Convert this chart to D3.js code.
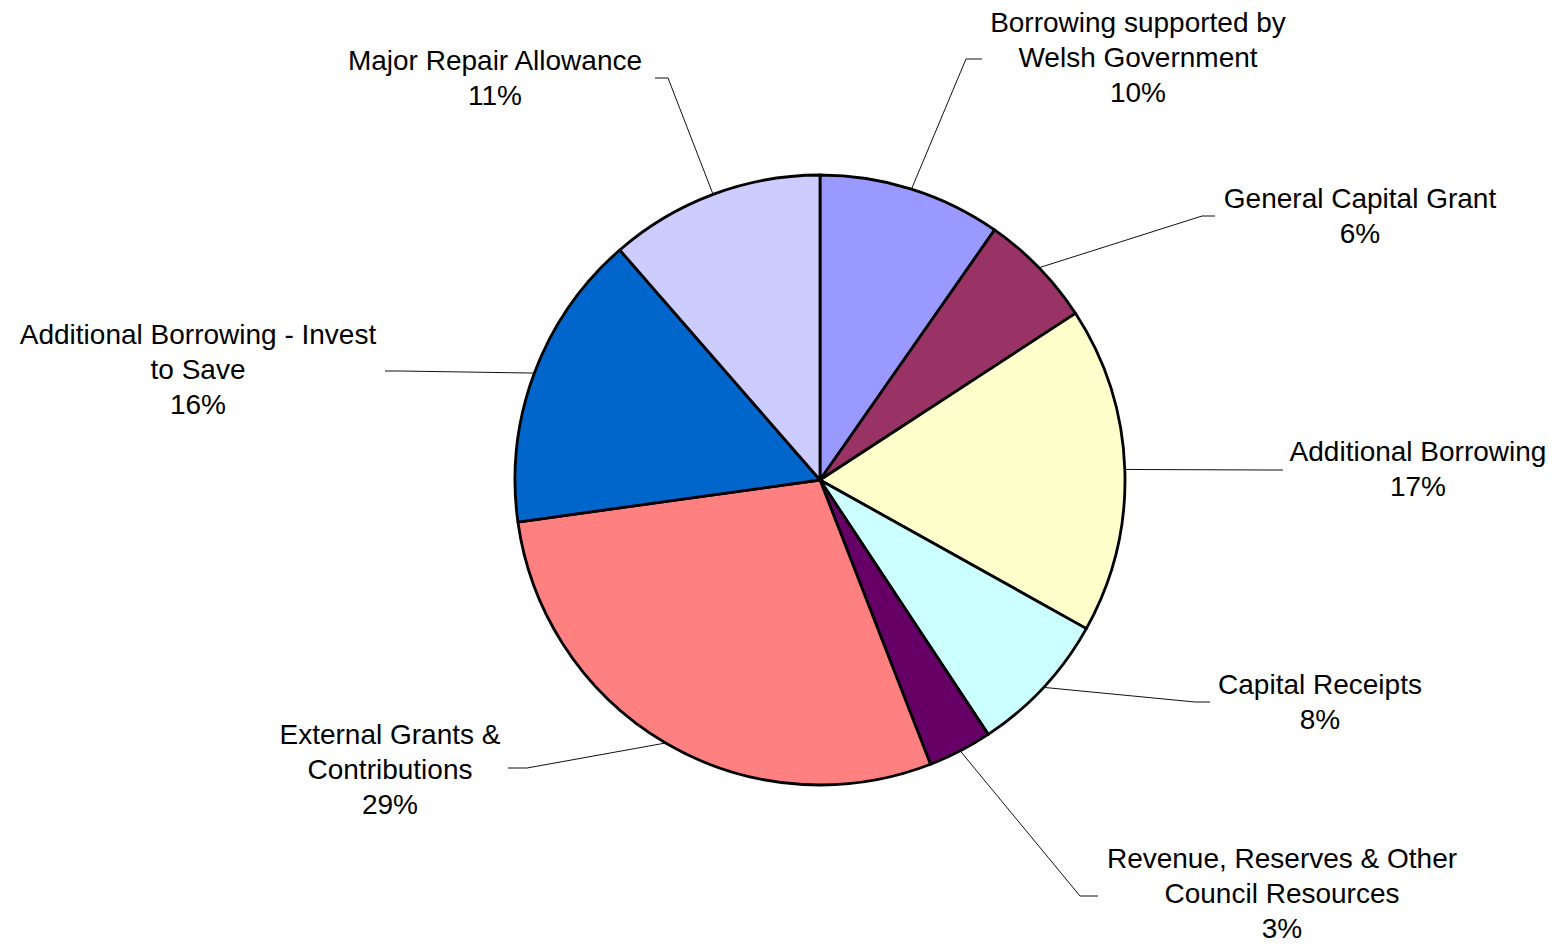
<!DOCTYPE html>
<html lang="en">
<head>
<meta charset="utf-8">
<title>Capital Programme Funding</title>
<style>
  body { margin: 0; background: white; }
  svg { display: block; }
  text { font-family: Arial, "Liberation Sans", sans-serif; font-size: 28px; fill: #000; }
</style>
<script src="https://d3js.org/d3.v7.min.js"></script>
</head>
<body>
<script>
let width = 1557
let height = 944

// data
let categories = [
  "Borrowing supported by Welsh Government",
  "General Capital Grant",
  "Additional Borrowing",
  "Capital Receipts",
  "Revenue, Reserves & Other Council Resources",
  "External Grants & Contributions",
  "Additional Borrowing - Invest to Save",
  "Major Repair Allowance"
]
let values = [9.7, 6.1, 17.3, 7.6, 3.4, 28.7, 15.8, 11.4]
let percentLabels = ["10%", "6%", "17%", "8%", "3%", "29%", "16%", "11%"]

// label text broken into lines as in the chart
let labelLines = [
  ["Borrowing supported by", "Welsh Government"],
  ["General Capital Grant"],
  ["Additional Borrowing"],
  ["Capital Receipts"],
  ["Revenue, Reserves & Other", "Council Resources"],
  ["External Grants &", "Contributions"],
  ["Additional Borrowing - Invest", "to Save"],
  ["Major Repair Allowance"]
]

let colors = ["#9999FF", "#993366", "#FFFFCC", "#CCFFFF", "#660066", "#FF8080", "#0066CC", "#CCCCFF"]

// layout: label centre (x, first line centre y) and leader elbow / end points
let labelPos = [[1138, 22], [1360, 198], [1418, 451], [1320, 684], [1282, 858], [390, 734], [198, 334], [495, 60]]
let elbows = [[966, 59], [1202, 216], [1268, 470], [1195, 702], [1080, 896], [527, 768], [400, 371], [668, 78]]
let ends = [[982, 59], [1215, 216], [1283, 470], [1210, 702], [1098, 896], [508, 768], [385, 371], [655, 78]]

let cx = 820, cy = 480, radius = 305
let lineH = 35

let svg = d3.select("body").append("svg")
  .attr("width", width)
  .attr("height", height)

let pie = d3.pie().sort(null).value(d => d)
let arcs = pie(values)
let arc = d3.arc().innerRadius(0).outerRadius(radius)

let g = svg.append("g").attr("transform", `translate(${cx},${cy})`)

g.selectAll("path.slice")
  .data(arcs)
  .enter()
  .append("path")
  .attr("class", "slice")
  .attr("d", arc)
  .attr("fill", (d, i) => colors[i])
  .attr("stroke", "#000")
  .attr("stroke-width", 2.8)
  .attr("stroke-linejoin", "round")

// leader lines from slice edge at mid angle
arcs.forEach((d, i) => {
  let a = (d.startAngle + d.endAngle) / 2
  let px = cx + radius * Math.sin(a)
  let py = cy - radius * Math.cos(a)
  svg.append("polyline")
    .attr("points", [[px, py], elbows[i], ends[i]].map(p => p.join(",")).join(" "))
    .attr("fill", "none")
    .attr("stroke", "#111")
    .attr("stroke-width", 1)
})

// labels
labelLines.forEach((lines, i) => {
  let all = lines.concat([percentLabels[i]])
  let t = svg.append("text")
    .attr("text-anchor", "middle")
  all.forEach((s, k) => {
    t.append("tspan")
      .attr("x", labelPos[i][0])
      .attr("y", labelPos[i][1] + k * lineH)
      .attr("dy", "0.36em")
      .text(s)
  })
})
</script>
</body>
</html>
